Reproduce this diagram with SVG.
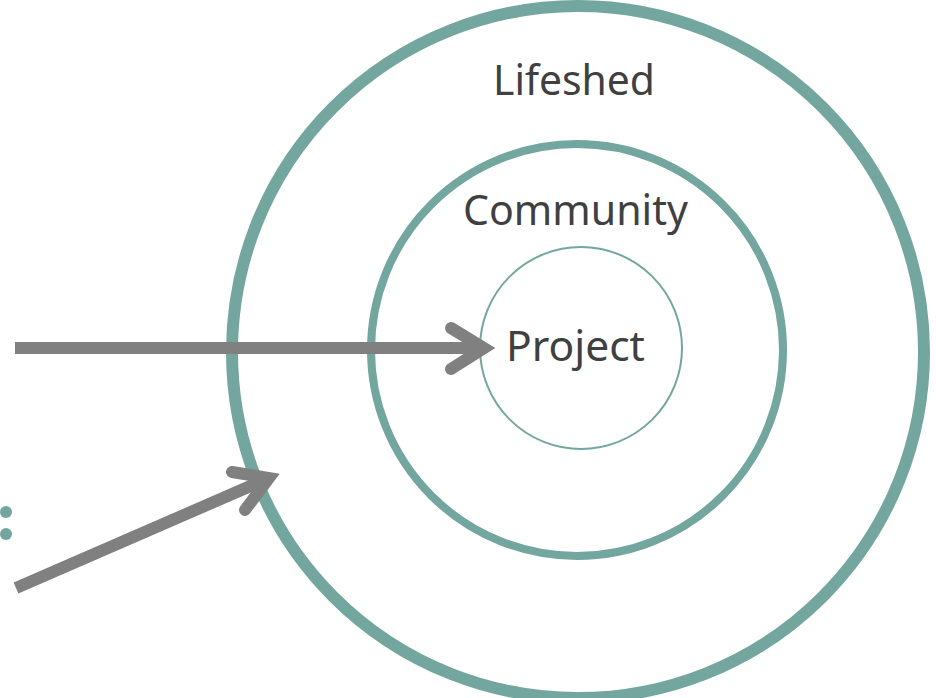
<svg xmlns="http://www.w3.org/2000/svg" width="936" height="698" viewBox="0 0 936 698">
<style>
.ring{fill:none;stroke:#72a69f}
.lbl{font-family:"Noto Sans","Open Sans","Liberation Sans",sans-serif;font-size:42px;fill:#404040;text-anchor:middle}
.shaft{fill:none;stroke:#808080;stroke-width:12;stroke-linecap:butt}
.head{fill:none;stroke:#808080;stroke-width:12;stroke-linecap:round;stroke-linejoin:miter;stroke-miterlimit:6}
</style>
<rect width="936" height="698" fill="#ffffff"/>
<g id="lifeshed">
<circle class="ring" cx="578" cy="352" r="346" stroke-width="12"/>
<text class="lbl" x="574" y="95" textLength="162" lengthAdjust="spacingAndGlyphs">Lifeshed</text>
</g>
<g id="community">
<circle class="ring" cx="577" cy="350" r="206" stroke-width="8"/>
<text class="lbl" x="575.5" y="225" textLength="225" lengthAdjust="spacingAndGlyphs">Community</text>
</g>
<g id="project">
<circle class="ring" cx="581" cy="348" r="101" stroke-width="2"/>
<text class="lbl" x="575.5" y="361" textLength="139" lengthAdjust="spacingAndGlyphs">Project</text>
</g>
<g id="dots" fill="#72a69f">
<circle cx="6" cy="512" r="6"/>
<circle cx="6" cy="534" r="6"/>
</g>
<g id="connectors">
<line class="shaft" x1="15" y1="348" x2="484" y2="348"/>
<path class="head" d="M451 328 L484 348 L451 369"/>
<line class="shaft" x1="16" y1="588" x2="269" y2="478"/>
<path class="head" d="M232 472 L269 478 L245 510"/>
</g>
</svg>
